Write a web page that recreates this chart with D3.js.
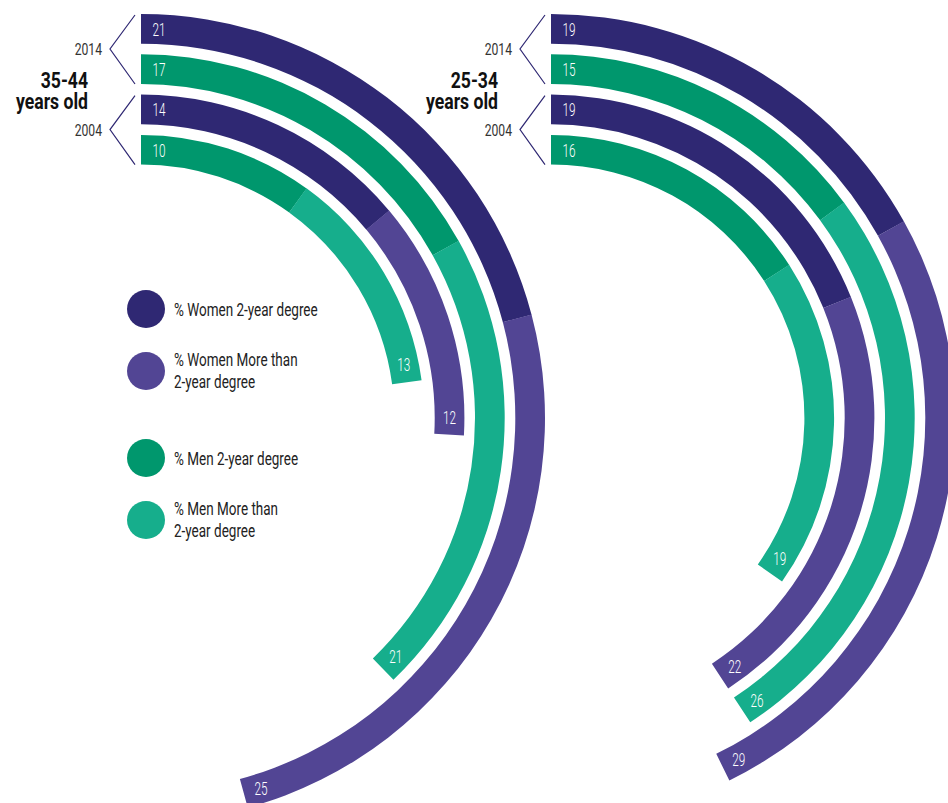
<!DOCTYPE html>
<html>
<head>
<meta charset="utf-8">
<script src="https://cdn.jsdelivr.net/npm/d3@7"></script>
<style>
  html, body { margin: 0; padding: 0; background: #fff; }
  svg { display: block; }
  text { font-family: Roboto, "Liberation Sans", sans-serif; }
</style>
</head>
<body>
<svg id="chart" width="948" height="803"></svg>
<script>
// ---- data ----
const ageGroups = ["35-44", "25-34"];
const years = ["2014", "2004"];
// values indexed [ageGroup][year]
const women2Year   = [[21, 14], [19, 19]];
const womenMore    = [[25, 12], [29, 22]];
const men2Year     = [[17, 10], [15, 16]];
const menMore      = [[21, 13], [26, 19]];
const legendLabels = [
  ["% Women 2-year degree"],
  ["% Women More than", "2-year degree"],
  ["% Men 2-year degree"],
  ["% Men More than", "2-year degree"]
];

// ---- styling ----
const C = {
  women2: "#2f2873",
  womenM: "#524594",
  men2: "#00976d",
  menM: "#16ae8c"
};
const DEG = Math.PI / 180;
const centers = [{x: 141, y: 418}, {x: 551, y: 418}];
const ringOuter = d3.scaleLinear().domain([0, 1]).range([404, 363.7]); // ring index -> outer radius
const THICK = 29.7;

const angle = d3.scaleLinear().domain([0, 50]).range([0, 179 * DEG]);
function ringScale(total) {
  // very long rings are compressed so they stay on the page
  if (angle(total) > 170 * DEG) {
    return d3.scaleLinear().domain([0, total]).range([0, 153.8 * DEG]);
  }
  return angle;
}

const svg = d3.select("#chart");
const arc = d3.arc();

// condensed text helper (no condensed font installed -> horizontal scale)
function ctext(parent, x, y, str, o) {
  const t = parent.append("text")
    .attr("transform", `translate(${x},${y}) scale(${o.sx},1)`)
    .attr("font-size", o.size)
    .attr("fill", o.fill)
    .attr("text-anchor", o.anchor || "start")
    .attr("font-weight", o.weight || 400);
  const lines = Array.isArray(str) ? str : [str];
  lines.forEach((ln, i) => {
    t.append("tspan").attr("x", 0).attr("y", i * (o.lh || 0)).text(ln);
  });
  return t;
}

ageGroups.forEach((g, gi) => {
  const c = centers[gi];
  const grp = svg.append("g").attr("transform", `translate(${c.x},${c.y})`);
  const rings = [];
  years.forEach((y, yi) => {
    rings.push({first: women2Year[gi][yi], second: womenMore[gi][yi], c1: C.women2, c2: C.womenM});
    rings.push({first: men2Year[gi][yi], second: menMore[gi][yi], c1: C.men2, c2: C.menM});
  });
  rings.forEach((r, ri) => {
    const ro = ringOuter(ri), rin = ro - THICK, rm = ro - THICK / 2;
    const s = ringScale(r.first + r.second);
    const a1 = s(r.first), a2 = s(r.first + r.second);
    grp.append("path")
      .attr("d", arc({innerRadius: rin, outerRadius: ro, startAngle: 0, endAngle: a1}))
      .attr("fill", r.c1);
    grp.append("path")
      .attr("d", arc({innerRadius: rin, outerRadius: ro, startAngle: a1 - 0.0005, endAngle: a2}))
      .attr("fill", r.c2);
    const vopt = {size: 19, sx: 0.62, fill: "#fff", weight: 300};
    ctext(grp, 11.5, -rm + 7, String(r.first), vopt);
    const la = a2 - 18 / rm;
    ctext(grp, rm * Math.sin(la), -rm * Math.cos(la) + 7, String(r.second), Object.assign({anchor: "middle"}, vopt));
  });

  // year brackets and labels
  years.forEach((y, yi) => {
    const top = c.y - ringOuter(yi * 2);
    const bot = c.y - ringOuter(yi * 2 + 1) + THICK;
    const mid = (top + bot) / 2;
    svg.append("path")
      .attr("d", d3.line()([[c.x - 6, top + 1], [c.x - 31, mid], [c.x - 6, bot]]))
      .attr("fill", "none").attr("stroke", C.women2).attr("stroke-width", 1.2);
    ctext(svg, c.x - 39, mid + 6, y, {size: 16, sx: 0.76, fill: "#333", anchor: "end", weight: 400});
  });
  // age group title (two lines in one text)
  ctext(svg, c.x - 53, 87.5, [g, "years old"],
        {size: 22, sx: 0.8, fill: "#111", anchor: "end", weight: 700, lh: 22});
});

// legend
const legendColors = [C.women2, C.womenM, C.men2, C.menM];
const legendY = [309, 371, 458, 520];
legendLabels.forEach((lines, i) => {
  svg.append("circle").attr("cx", 146).attr("cy", legendY[i]).attr("r", 19).attr("fill", legendColors[i]);
  const y0 = lines.length === 1 ? legendY[i] + 7 : legendY[i] - 4.7;
  ctext(svg, 174, y0, lines, {size: 18.5, sx: 0.73, fill: "#222", weight: 400, lh: 21.3});
});
</script>
</body>
</html>
